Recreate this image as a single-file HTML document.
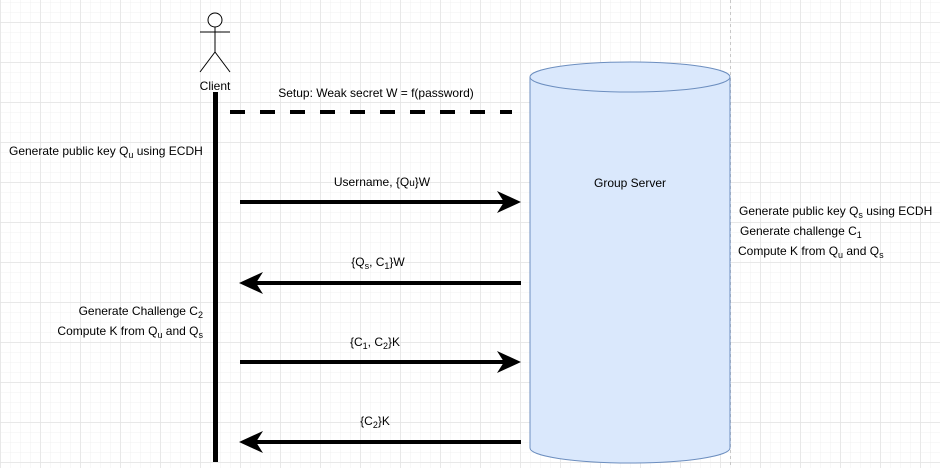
<!DOCTYPE html>
<html><head><meta charset="utf-8"><style>
html,body{margin:0;padding:0;background:#fff;}
svg{display:block;font-family:"Liberation Sans",Arial,sans-serif;font-size:12px;}
</style></head><body>
<svg width="940" height="468" viewBox="0 0 940 468" xmlns="http://www.w3.org/2000/svg">
<defs>
<pattern id="minor" width="10" height="10" patternUnits="userSpaceOnUse" x="0" y="2">
<path d="M0 0H10M0 0V10" stroke="#f0f0f0" stroke-width="1" fill="none"/>
</pattern>
<pattern id="major" width="40" height="40" patternUnits="userSpaceOnUse" x="0.5" y="22.5">
<path d="M0 0H40M0 0V40" stroke="#e0e0e0" stroke-width="1" fill="none"/>
</pattern>
</defs>
<rect width="940" height="468" fill="url(#minor)"/>
<rect width="940" height="468" fill="url(#major)"/>
<line x1="730.5" y1="0" x2="730.5" y2="468" stroke="#c8c8c8" stroke-dasharray="3,3"/>

<g stroke="#000" stroke-width="1" fill="none">
<circle cx="215" cy="20" r="7" fill="#fff"/>
<line x1="215" y1="27" x2="215" y2="52"/>
<line x1="200" y1="32" x2="230" y2="32"/>
<line x1="215" y1="52" x2="200" y2="72"/>
<line x1="215" y1="52" x2="230" y2="72"/>
</g>
<text x="215" y="90" text-anchor="middle">Client</text>

<rect x="213" y="92" width="5" height="370" fill="#000"/>
<line x1="230" y1="112" x2="512" y2="112" stroke="#000" stroke-width="4" stroke-dasharray="15,15"/>
<text x="376" y="97" text-anchor="middle">Setup: Weak secret W = f(password)</text>

<path d="M530 77 V448 A100 15 0 0 0 730 448 V77" fill="#dae8fc" stroke="#6c8ebf" stroke-width="1"/>
<ellipse cx="630" cy="77" rx="100" ry="15" fill="#dae8fc" stroke="#6c8ebf" stroke-width="1"/>
<text x="630" y="187" text-anchor="middle">Group Server</text>

<g fill="#000">
<rect x="240" y="200" width="264" height="4"/>
<path d="M521 202 L497 191 L504 202 L497 213 Z"/>
<rect x="256" y="281" width="265" height="4"/>
<path d="M239 283 L263 272 L256 283 L263 294 Z"/>
<rect x="240" y="360" width="264" height="4"/>
<path d="M521 362 L497 351 L504 362 L497 373 Z"/>
<rect x="256" y="440" width="265" height="4"/>
<path d="M239 442 L263 431 L256 442 L263 453 Z"/>
</g>

<text x="382" y="186" text-anchor="middle">Username, {Q<tspan font-size="10">u</tspan>}W</text>
<text x="378" y="266" text-anchor="middle">{Q<tspan font-size="9" dy="3">s</tspan><tspan dy="-3">, C</tspan><tspan font-size="9" dy="3">1</tspan><tspan dy="-3">}W</tspan></text>
<text x="375" y="346" text-anchor="middle">{C<tspan font-size="9" dy="3">1</tspan><tspan dy="-3">, C</tspan><tspan font-size="9" dy="3">2</tspan><tspan dy="-3">}K</tspan></text>
<text x="375" y="425" text-anchor="middle">{C<tspan font-size="9" dy="3">2</tspan><tspan dy="-3">}K</tspan></text>

<text x="9" y="155">Generate public key Q<tspan font-size="9" dy="3">u</tspan><tspan dy="-3"> using ECDH</tspan></text>
<text x="203" y="315" text-anchor="end">Generate Challenge C<tspan font-size="9" dy="3">2</tspan></text>
<text x="203" y="335" text-anchor="end">Compute K from Q<tspan font-size="9" dy="3">u</tspan><tspan dy="-3"> and Q</tspan><tspan font-size="9" dy="3">s</tspan></text>

<text x="739" y="215">Generate public key Q<tspan font-size="9" dy="3">s</tspan><tspan dy="-3"> using ECDH</tspan></text>
<text x="740" y="235">Generate challenge C<tspan font-size="9" dy="3">1</tspan></text>
<text x="738" y="255">Compute K from Q<tspan font-size="9" dy="3">u</tspan><tspan dy="-3"> and Q</tspan><tspan font-size="9" dy="3">s</tspan></text>
</svg>
</body></html>
